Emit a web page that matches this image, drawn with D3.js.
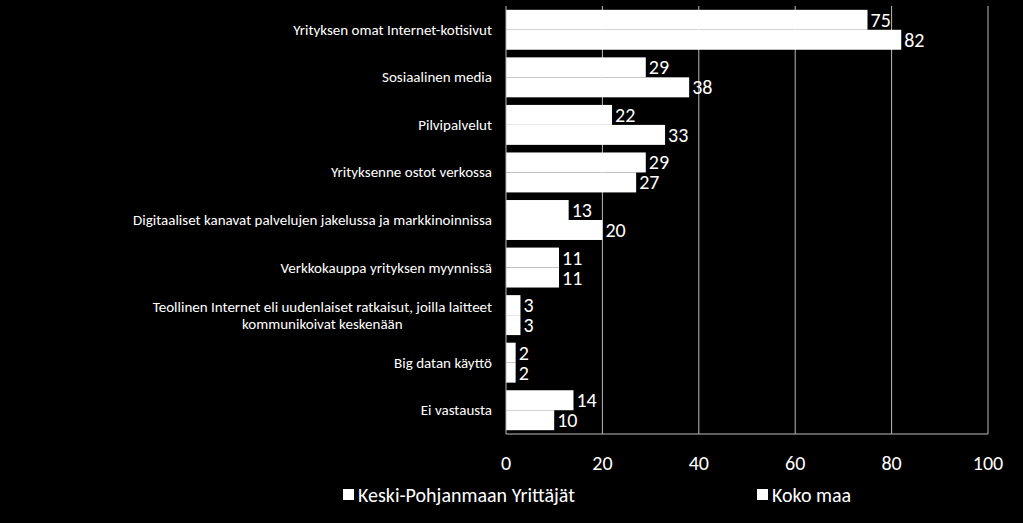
<!DOCTYPE html>
<html><head><meta charset="utf-8">
<script src="https://cdn.jsdelivr.net/npm/d3@7"></script>
<style>body{margin:0;background:#000}text{font-family:Calibri,Carlito,"Liberation Sans",sans-serif}</style>
</head><body>
<script>
const categories = [
  ['Yrityksen omat Internet-kotisivut'],
  ['Sosiaalinen media'],
  ['Pilvipalvelut'],
  ['Yrityksenne ostot verkossa'],
  ['Digitaaliset kanavat palvelujen jakelussa ja markkinoinnissa'],
  ['Verkkokauppa yrityksen myynnissä'],
  ['Teollinen Internet eli uudenlaiset ratkaisut, joilla laitteet', 'kommunikoivat keskenään'],
  ['Big datan käyttö'],
  ['Ei vastausta']
];
const keskiPohjanmaa = [75, 29, 22, 29, 13, 11, 3, 2, 14];
const kokoMaa = [82, 38, 33, 27, 20, 11, 3, 2, 10];
const seriesNames = ['Keski-Pohjanmaan Yrittäjät', 'Koko maa'];
const xTicks = [0, 20, 40, 60, 80, 100];

const width = 1023, height = 523;
const plotLeft = 506, plotRight = 988, plotTop = 6, plotBottom = 434;

const svg = d3.select('body').append('svg').attr('width', width).attr('height', height);

const x = d3.scaleLinear().domain([0, 100]).range([plotLeft, plotRight]);
const y = d3.scaleBand().domain(d3.range(categories.length)).range([plotTop, plotBottom]).paddingInner(0.16).paddingOuter(0.08);

svg.selectAll('.grid').data(xTicks.slice(1)).enter().append('line')
  .attr('x1', d => x(d)).attr('x2', d => x(d)).attr('y1', plotTop).attr('y2', plotBottom)
  .attr('stroke', '#bbb').attr('stroke-width', 1);

const bh = y.bandwidth() / 2;
[keskiPohjanmaa, kokoMaa].forEach((vals, s) => {
  svg.selectAll('.b' + s).data(vals).enter().append('rect')
    .attr('x', x(0)).attr('y', (d, i) => y(i) + s * bh)
    .attr('width', d => x(d) - x(0)).attr('height', bh).attr('fill', '#fff');
  svg.selectAll('.l' + s).data(vals).enter().append('text')
    .attr('x', d => x(d) + 3).attr('y', (d, i) => y(i) + s * bh + bh / 2 + 7)
    .attr('fill', '#fff').attr('font-size', 20).text(d => d);
});

svg.append('line').attr('x1', plotLeft).attr('x2', plotLeft).attr('y1', plotTop).attr('y2', plotBottom).attr('stroke', '#bbb');
svg.append('line').attr('x1', plotLeft).attr('x2', plotRight).attr('y1', plotBottom).attr('y2', plotBottom).attr('stroke', '#bbb');

categories.forEach((lines, i) => {
  const cy = y(i) + y.bandwidth() / 2;
  const g = svg.append('g');
  const ts = lines.map((t, j) => g.append('text')
    .attr('y', cy + 5 + (j - (lines.length - 1) / 2) * 17)
    .attr('fill', '#fff').attr('font-size', 15).attr('text-anchor', 'middle').text(t));
  const w = d3.max(ts, t => t.node().getComputedTextLength());
  ts.forEach(t => t.attr('x', 492 - w / 2));
});

svg.selectAll('.xt').data(xTicks).enter().append('text')
  .attr('x', d => x(d)).attr('y', 470).attr('text-anchor', 'middle')
  .attr('fill', '#fff').attr('font-size', 20).text(d => d);

const legendX = [343, 757];
seriesNames.forEach((n, i) => {
  svg.append('rect').attr('x', legendX[i]).attr('y', 489).attr('width', 11).attr('height', 11).attr('fill', '#fff');
  svg.append('text').attr('x', legendX[i] + 15).attr('y', 502).attr('fill', '#fff').attr('font-size', 20).text(n);
});
</script>
</body></html>
